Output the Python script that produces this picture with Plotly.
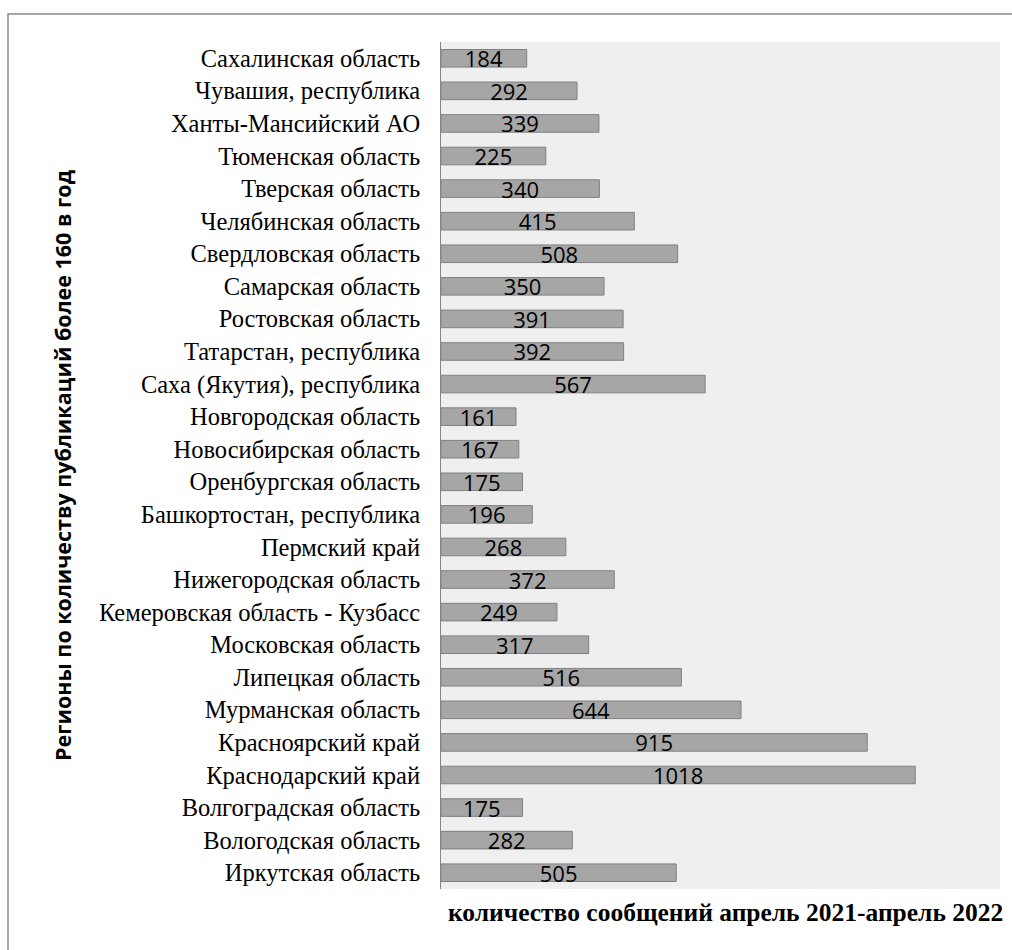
import plotly.graph_objects as go

# Regions, listed top to bottom as they appear on the chart
regions = [
    "Сахалинская область",
    "Чувашия, республика",
    "Ханты-Мансийский АО",
    "Тюменская область",
    "Тверская область",
    "Челябинская область",
    "Свердловская область",
    "Самарская область",
    "Ростовская область",
    "Татарстан, республика",
    "Саха (Якутия), республика",
    "Новгородская область",
    "Новосибирская область",
    "Оренбургская область",
    "Башкортостан, республика",
    "Пермский край",
    "Нижегородская область",
    "Кемеровская область - Кузбасс",
    "Московская область",
    "Липецкая область",
    "Мурманская область",
    "Красноярский край",
    "Краснодарский край",
    "Волгоградская область",
    "Вологодская область",
    "Иркутская область",
]

messages = [
    184, 292, 339, 225, 340, 415, 508, 350, 391, 392, 567, 161, 167,
    175, 196, 268, 372, 249, 317, 516, 644, 915, 1018, 175, 282, 505,
]

x_title = "количество сообщений апрель 2021-апрель 2022"
y_title = "Регионы по количеству публикаций более 160 в год"

SERIF = "Liberation Serif"
SANS = "Open Sans"

W, H = 1012, 950
L, R, T, B = 441, 12, 42, 61
plot_w = W - L - R
plot_h = H - T - B


def px_to_paper_x(px):
    return (px - L) / plot_w


def px_to_paper_y(py):
    return (H - B - py) / plot_h


fig = go.Figure()
fig.add_trace(
    go.Bar(
        x=messages,
        y=regions,
        orientation="h",
        marker=dict(color="#a6a6a6", line=dict(color="#808080", width=1)),
        text=[str(v) for v in messages],
        textposition="inside",
        insidetextanchor="middle",
        constraintext="none",
        textfont=dict(family=SANS, size=22, color="#000000"),
        hoverinfo="skip",
    )
)

fig.update_layout(
    width=W,
    height=H,
    margin=dict(l=L, r=R, t=T, b=B),
    paper_bgcolor="#ffffff",
    plot_bgcolor="#efefef",
    bargap=0.46,
    showlegend=False,
    xaxis=dict(
        range=[0, 1200],
        showticklabels=False,
        showgrid=False,
        zeroline=False,
        showline=False,
        ticks="",
        fixedrange=True,
    ),
    yaxis=dict(
        autorange="reversed",
        showgrid=False,
        zeroline=False,
        showline=True,
        linecolor="#868686",
        linewidth=1,
        ticks="",
        ticklabelstandoff=15,
        tickfont=dict(family=SERIF, size=24.5, color="#000000"),
        fixedrange=True,
    ),
    annotations=[
        dict(
            text="<b>" + x_title + "</b>",
            xref="paper", yref="paper",
            x=px_to_paper_x(725), y=px_to_paper_y(912),
            xanchor="center", yanchor="middle",
            showarrow=False,
            font=dict(family=SERIF, size=25.5, color="#000000"),
        ),
        dict(
            text="<b>" + y_title + "</b>",
            xref="paper", yref="paper",
            x=px_to_paper_x(62), y=px_to_paper_y(466),
            xanchor="center", yanchor="middle",
            textangle=-90,
            showarrow=False,
            font=dict(family=SANS, size=21.5, color="#000000"),
        ),
    ],
    shapes=[
        # outer frame: left and top edges
        dict(
            type="path",
            xref="paper", yref="paper",
            path="M {x0},{y0} L {x0},{y1} L {x2},{y1}".format(
                x0=px_to_paper_x(8), y0=px_to_paper_y(960),
                y1=px_to_paper_y(14), x2=px_to_paper_x(1020),
            ),
            line=dict(color="#8a8a8a", width=1.5),
        ),
    ],
)

fig.write_html("out.html")
